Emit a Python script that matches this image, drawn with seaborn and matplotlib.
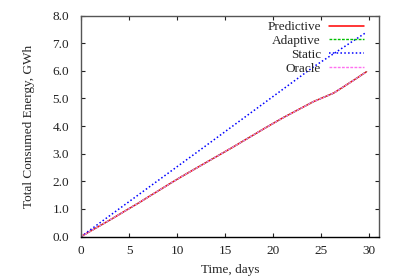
import matplotlib
matplotlib.use("Agg")
import matplotlib.pyplot as plt
import seaborn as sns
import pandas as pd

days = [0, 3, 6, 8, 10.3, 13, 16, 19, 21, 24.2, 26.3, 28, 29.7]
predictive = [0, 0.60, 1.22, 1.65, 2.14, 2.68, 3.28, 3.90, 4.30, 4.89, 5.20, 5.58, 5.97]
adaptive = [0, 0.60, 1.22, 1.65, 2.14, 2.68, 3.28, 3.90, 4.30, 4.89, 5.20, 5.58, 5.97]
oracle = [0, 0.60, 1.22, 1.65, 2.14, 2.68, 3.28, 3.90, 4.30, 4.89, 5.20, 5.58, 5.97]
static_days = [0, 12.4, 24.2, 29.7]
static = [0, 3.14, 6.15, 7.40]

xticks = [0, 5, 10, 15, 20, 25, 30]
yticks = [0, 1, 2, 3, 4, 5, 6, 7, 8]

sns.set_style("white")
plt.rcParams['font.family'] = ['Liberation Serif', 'DejaVu Serif']
plt.rcParams['font.size'] = 9.5

fig = plt.figure(figsize=(3.99, 2.79), dpi=100)
ax = fig.add_axes([0.203, 0.152, 0.747, 0.792])

df_p = pd.DataFrame({"x": days, "y": predictive})
df_a = pd.DataFrame({"x": days, "y": adaptive})
df_s = pd.DataFrame({"x": static_days, "y": static})
df_o = pd.DataFrame({"x": days, "y": oracle})

sns.lineplot(data=df_p, x="x", y="y", ax=ax, color="#ff0000", lw=1.1, label="Predictive")
sns.lineplot(data=df_a, x="x", y="y", ax=ax, color="#00c000", lw=1.0, label="Adaptive")
ax.lines[-1].set_linestyle((0, (2, 1)))
sns.lineplot(data=df_s, x="x", y="y", ax=ax, color="#0000ff", lw=1.1, label="Static")
ax.lines[-1].set_linestyle((0, (1, 1.5)))
sns.lineplot(data=df_o, x="x", y="y", ax=ax, color="#ff70f0", lw=1.0, label="Oracle")
ax.lines[-1].set_linestyle((0, (2, 1)))

ax.set_xlim(0, 31)
ax.set_ylim(0, 8)
ax.set_xticks(xticks)
ax.set_yticks(yticks)
ax.set_yticklabels([f"{v:.1f}" for v in yticks])
ax.tick_params(direction="in", length=3, width=0.8, top=True, right=True,
               bottom=True, left=True, labelsize=9.5, colors="#222222")
ax.tick_params(axis="y", pad=8.5)
ax.tick_params(axis="x", pad=6)
for s in ax.spines.values():
    s.set_color("#555555")
    s.set_linewidth(1.0)
ax.spines["bottom"].set_color("#000000")

ax.set_xlabel("Time, days", fontsize=9.5, labelpad=5)
ax.set_ylabel("Total Consumed Energy, GWh", fontsize=9.5, labelpad=12.5)

leg = ax.legend(loc="upper right", frameon=False, markerfirst=False, fontsize=9.5,
                handlelength=2.6, handletextpad=0.65, labelspacing=0.12,
                borderaxespad=0.2, bbox_to_anchor=(0.975, 1.012))

fig.savefig("out.png", dpi=100)
